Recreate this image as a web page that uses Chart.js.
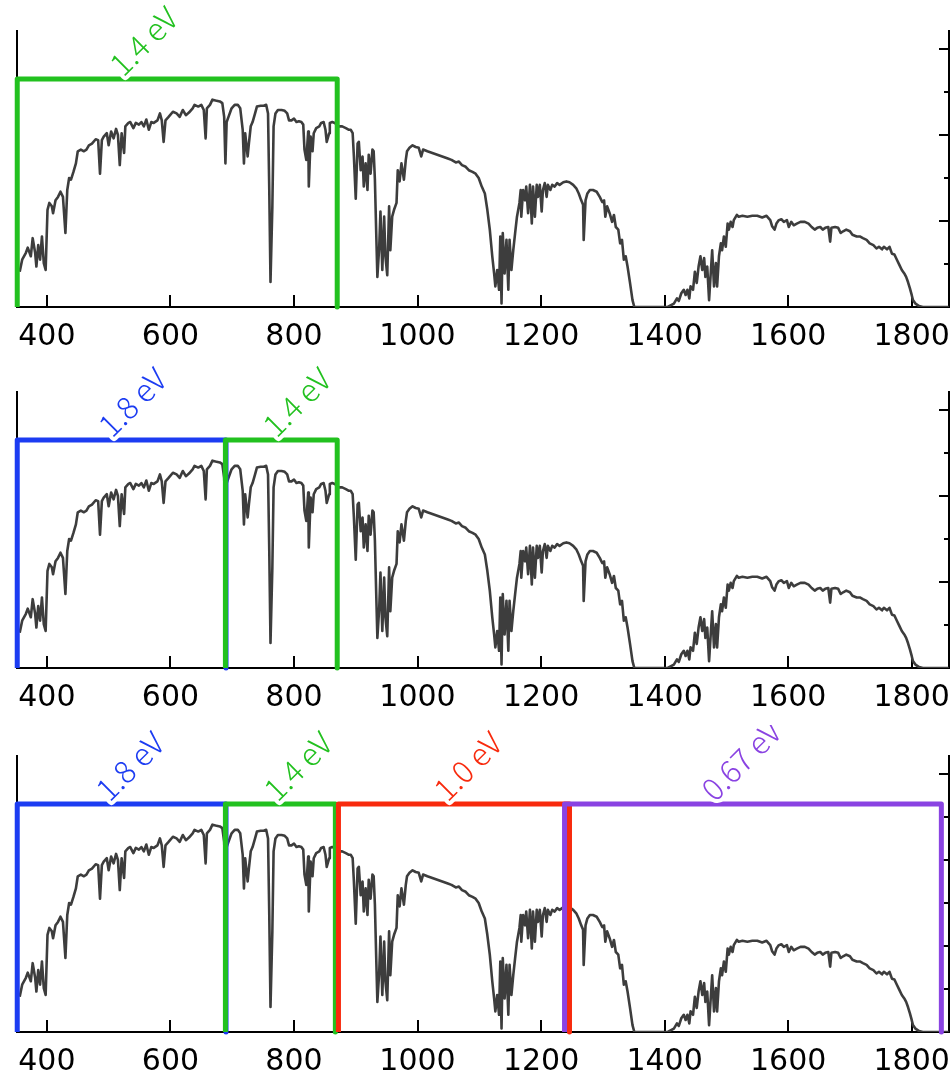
<!DOCTYPE html>
<html>
<head>
<meta charset="utf-8">
<script src="https://cdn.jsdelivr.net/npm/chart.js@4.4.1/dist/chart.umd.min.js"></script>
<style>
  html, body { margin: 0; padding: 0; background: #fff; }
  .panel { position: absolute; left: 0; width: 952px; }
  .panel canvas { display: block; }
</style>
</head>
<body>
<div class="panel" style="top:0px"><canvas id="p0" width="952" height="361"></canvas></div>
<div class="panel" style="top:361px"><canvas id="p1" width="952" height="364"></canvas></div>
<div class="panel" style="top:725px"><canvas id="p2" width="952" height="348"></canvas></div>
<script>
// AM1.5 photon flux (arbitrary units) vs wavelength in nm
const wavelength = [
  356, 360, 366, 369, 374, 377, 381, 383, 386, 389, 392, 395, 398, 401, 404, 408, 410, 414, 418, 422,
  426, 430, 433, 436, 439, 443, 447, 450, 455, 460, 464, 468, 473, 479, 483, 486, 489, 492, 497, 500,
  504, 508, 512, 515, 518, 521, 525, 527, 532, 535, 540, 544, 549, 553, 557, 561, 565, 569, 573, 579,
  583, 586, 589, 592, 597, 604, 610, 615, 620, 625, 630, 636, 639, 645, 650, 654, 657, 659, 664, 668,
  673, 680, 684, 687, 689, 691, 694, 699, 704, 709, 713, 717, 719, 721, 725, 727, 730, 733, 737, 740,
  746, 751, 755, 758, 760, 762, 765, 767, 770, 774, 780, 785, 789, 792, 796, 800, 804, 808, 812, 815,
  817, 820, 823, 824, 827, 830, 832, 836, 841, 844, 848, 851, 853, 857, 858, 862, 866, 873, 878, 884,
  889, 892, 895, 897, 900, 903, 905, 908, 911, 913, 916, 919, 921, 924, 927, 929, 931, 933, 935, 938,
  940, 943, 946, 948, 951, 954, 956, 959, 962, 966, 968, 971, 974, 978, 981, 983, 987, 992, 997, 1002,
  1006, 1009, 1016, 1024, 1032, 1040, 1048, 1055, 1062, 1067, 1072, 1078, 1083, 1089, 1094, 1099, 1104, 1109, 1113, 1117,
  1121, 1124, 1126, 1129, 1132, 1134, 1136, 1138, 1141, 1144, 1147, 1149, 1152, 1155, 1158, 1161, 1165, 1167, 1168, 1171,
  1174, 1176, 1179, 1182, 1185, 1187, 1190, 1193, 1195, 1198, 1201, 1203, 1206, 1209, 1211, 1215, 1218, 1222, 1226, 1230,
  1236, 1241, 1246, 1252, 1257, 1261, 1265, 1268, 1269, 1272, 1275, 1279, 1284, 1290, 1295, 1299, 1302, 1304, 1307, 1311,
  1315, 1318, 1321, 1325, 1328, 1331, 1334, 1337, 1340, 1344, 1348, 1351, 1380, 1405, 1415, 1420, 1423, 1427, 1431, 1434,
  1437, 1440, 1442, 1446, 1449, 1452, 1455, 1458, 1461, 1464, 1466, 1469, 1472, 1475, 1477, 1480, 1483, 1485, 1488, 1491,
  1493, 1496, 1499, 1502, 1504, 1507, 1510, 1512, 1517, 1520, 1526, 1534, 1542, 1550, 1558, 1565, 1571, 1574, 1578, 1581,
  1585, 1589, 1593, 1598, 1601, 1605, 1609, 1614, 1620, 1627, 1633, 1638, 1643, 1647, 1652, 1656, 1660, 1665, 1668, 1670,
  1676, 1681, 1685, 1689, 1694, 1700, 1704, 1711, 1716, 1721, 1727, 1732, 1738, 1743, 1747, 1752, 1755, 1760, 1764, 1768,
  1772, 1776, 1780, 1784, 1788, 1791, 1794, 1797, 1800, 1802, 1806, 1812, 1818, 1860
];
const flux = [
  0.41, 0.55, 0.63, 0.69, 0.59, 0.80, 0.63, 0.47, 0.72, 0.55, 0.82, 0.51, 0.43, 1.13, 1.21, 1.17, 1.09, 1.24, 1.28, 1.34,
  1.28, 0.86, 1.36, 1.50, 1.48, 1.57, 1.67, 1.81, 1.83, 1.81, 1.83, 1.88, 1.90, 1.95, 1.94, 1.55, 1.94, 1.98, 2.02, 1.88,
  2.04, 1.96, 2.07, 2.00, 1.65, 2.02, 1.79, 2.10, 2.14, 2.15, 2.08, 2.14, 2.12, 2.15, 2.10, 2.18, 2.06, 2.15, 2.14, 2.17,
  2.25, 2.17, 1.92, 2.17, 2.21, 2.27, 2.25, 2.21, 2.29, 2.23, 2.26, 2.31, 2.35, 2.33, 2.35, 2.29, 1.96, 2.31, 2.35, 2.41,
  2.40, 2.39, 2.37, 2.21, 1.67, 2.15, 2.21, 2.31, 2.35, 2.35, 2.31, 2.06, 1.67, 2.02, 1.75, 1.90, 2.10, 2.15, 2.25, 2.33,
  2.34, 2.34, 2.35, 2.25, 1.36, 0.29, 1.17, 2.10, 2.25, 2.29, 2.29, 2.28, 2.25, 2.17, 2.17, 2.19, 2.15, 2.16, 2.15, 2.12,
  1.83, 1.71, 2.04, 1.40, 1.98, 1.81, 2.02, 2.08, 2.10, 2.14, 2.15, 2.06, 1.92, 2.02, 2.14, 2.15, 2.14, 2.10, 2.10, 2.08,
  2.06, 2.06, 2.02, 1.75, 1.26, 1.90, 1.92, 1.59, 1.75, 1.40, 1.67, 1.36, 1.77, 1.55, 1.83, 1.81, 1.48, 0.90, 0.35, 0.70,
  1.11, 0.43, 1.05, 0.59, 0.37, 1.17, 0.66, 1.05, 1.13, 1.21, 1.59, 1.46, 1.67, 1.48, 1.71, 1.81, 1.85, 1.88, 1.86, 1.85,
  1.75, 1.83, 1.81, 1.79, 1.77, 1.75, 1.73, 1.71, 1.68, 1.69, 1.65, 1.63, 1.59, 1.57, 1.55, 1.50, 1.40, 1.32, 1.13, 0.90,
  0.59, 0.39, 0.24, 0.43, 0.20, 0.82, 0.04, 0.86, 0.39, 0.78, 0.20, 0.78, 0.43, 0.66, 0.86, 1.05, 1.21, 1.36, 1.05, 1.36,
  1.24, 1.40, 1.09, 1.42, 0.97, 1.40, 1.05, 1.42, 1.28, 1.42, 1.11, 1.36, 1.44, 1.28, 1.42, 1.36, 1.42, 1.40, 1.44, 1.42,
  1.45, 1.46, 1.45, 1.42, 1.38, 1.32, 1.24, 1.19, 0.78, 1.24, 1.32, 1.36, 1.36, 1.34, 1.28, 1.22, 1.24, 1.05, 1.17, 1.09,
  0.99, 1.07, 0.93, 0.90, 0.74, 0.78, 0.55, 0.59, 0.47, 0.28, 0.08, 0.00, 0.00, 0.00, 0.04, 0.10, 0.07, 0.16, 0.20, 0.14,
  0.20, 0.10, 0.24, 0.20, 0.41, 0.28, 0.47, 0.59, 0.43, 0.57, 0.35, 0.47, 0.08, 0.43, 0.66, 0.24, 0.51, 0.24, 0.59, 0.74,
  0.66, 0.82, 0.70, 0.97, 0.90, 0.99, 0.93, 1.01, 1.07, 1.05, 1.06, 1.05, 1.06, 1.06, 1.04, 1.06, 1.01, 0.94, 0.90, 0.97,
  1.01, 1.02, 0.99, 1.01, 0.93, 0.99, 0.95, 0.97, 0.99, 0.99, 0.97, 0.93, 0.90, 0.92, 0.93, 0.90, 0.92, 0.93, 0.76, 0.92,
  0.93, 0.92, 0.86, 0.88, 0.90, 0.88, 0.84, 0.82, 0.82, 0.80, 0.78, 0.74, 0.72, 0.68, 0.70, 0.67, 0.70, 0.67, 0.70, 0.62,
  0.61, 0.55, 0.49, 0.43, 0.39, 0.35, 0.29, 0.22, 0.14, 0.08, 0.04, 0.01, 0.00, 0.00
];

const xTicks = [400, 600, 800, 1000, 1200, 1400, 1600, 1800];
const yMajorTicks = [1, 2, 3];
const yMinorTicks = [0.5, 1.5, 2.5];

// sub-cells absorbing in each panel: band gap label, absorption window [from, to] in nm, label anchor
const panelLabels = [
  ['1.4 eV'],
  ['1.8 eV', '1.4 eV'],
  ['1.8 eV', '1.4 eV', '1.0 eV', '0.67 eV']
];
const panelEdges = [
  [[352, 870]],
  [[352, 690], [689, 870]],
  [[352, 690], [689, 867], [872, 1246], [1238, 1848]]
];
const panelLabelAt = [
  [530],
  [512, 778],
  [508, 780, 1055, 1488]
];
const boxTop = 2.65;

const gapColors = {
  '1.8 eV': '#1c3cf2',
  '1.4 eV': '#22c11f',
  '1.0 eV': '#f82a0d',
  '0.67 eV': '#8a43e2'
};

const TICK_FONT = '"DejaVu Sans", "Noto Sans", sans-serif';
const LABEL_FONT = '"Noto Sans CJK JP", "Noto Sans", sans-serif';
const PLOT_TOP = 30;
const PLOT_BOTTOM = 307;

const framePlugin = {
  id: 'frame',
  beforeDatasetsDraw(chart) {
    const { ctx, chartArea: a, scales: { x, y } } = chart;
    ctx.save();
    ctx.strokeStyle = '#000';
    ctx.lineWidth = 2;
    ctx.beginPath();
    ctx.moveTo(a.left + 1, a.top);
    ctx.lineTo(a.left + 1, a.bottom);
    ctx.moveTo(a.right - 1, a.top);
    ctx.lineTo(a.right - 1, a.bottom);
    ctx.moveTo(a.left, a.bottom);
    ctx.lineTo(a.right, a.bottom);
    xTicks.forEach((v) => {
      const px = Math.round(x.getPixelForValue(v));
      ctx.moveTo(px, a.bottom);
      ctx.lineTo(px, a.bottom - 12);
    });
    yMajorTicks.forEach((v) => {
      const py = Math.round(y.getPixelForValue(v));
      ctx.moveTo(a.right, py);
      ctx.lineTo(a.right - 11, py);
    });
    yMinorTicks.forEach((v) => {
      const py = Math.round(y.getPixelForValue(v));
      ctx.moveTo(a.right, py);
      ctx.lineTo(a.right - 6, py);
    });
    ctx.stroke();
    ctx.restore();
  }
};

const gapLabelPlugin = {
  id: 'gapLabels',
  afterDatasetsDraw(chart, args, opts) {
    const { ctx, scales: { x, y } } = chart;
    ctx.save();
    ctx.font = '300 31px ' + LABEL_FONT;
    ctx.textAlign = 'left';
    ctx.textBaseline = 'alphabetic';
    ctx.lineJoin = 'round';
    (opts.items || []).forEach((item) => {
      const px = x.getPixelForValue(item.at);
      const py = y.getPixelForValue(boxTop);
      ctx.save();
      ctx.translate(px - 4, py - 1);
      ctx.rotate(-45 * Math.PI / 180);
      ctx.strokeStyle = '#fff';
      ctx.lineWidth = 8;
      ctx.strokeText(item.text, 0, 0);
      ctx.fillStyle = item.color;
      ctx.fillText(item.text, 0, 0);
      ctx.restore();
    });
    ctx.restore();
  }
};

function buildPanel(index) {
  const labels = panelLabels[index];
  const edges = panelEdges[index];
  const anchors = panelLabelAt[index];

  const boxes = labels.map((label, i) => {
    const [from, to] = edges[i];
    return {
      label,
      data: [
        { x: from, y: 0 },
        { x: from, y: boxTop },
        { x: to, y: boxTop },
        { x: to, y: 0 }
      ],
      borderColor: gapColors[label],
      borderWidth: 5,
      borderJoinStyle: 'round',
      pointRadius: 0,
      tension: 0,
      fill: false,
      clip: false,
      order: labels.length - i
    };
  });

  const spectrum = {
    label: 'AM1.5',
    data: wavelength.map((w, i) => ({ x: w, y: flux[i] })),
    borderColor: '#3d3d3d',
    borderWidth: 2.6,
    borderJoinStyle: 'round',
    pointRadius: 0,
    tension: 0,
    fill: false,
    order: 100
  };

  const ctx = document.getElementById('p' + index);
  return new Chart(ctx, {
    type: 'line',
    data: { datasets: boxes.concat([spectrum]) },
    options: {
      responsive: false,
      animation: false,
      parsing: false,
      layout: { padding: { top: PLOT_TOP, left: 16, right: 2, bottom: 0 } },
      plugins: {
        legend: { display: false },
        tooltip: { enabled: false },
        gapLabels: {
          items: labels.map((text, i) => ({ text, at: anchors[i], color: gapColors[text] }))
        }
      },
      scales: {
        x: {
          type: 'linear',
          min: 350,
          max: 1862,
          afterFit(scale) {
            scale.height = scale.chart.height - PLOT_BOTTOM;
            scale.paddingLeft = 0;
            scale.paddingRight = 0;
          },
          afterBuildTicks(scale) { scale.ticks = xTicks.map((v) => ({ value: v })); },
          grid: { display: false, drawTicks: false },
          border: { display: false },
          ticks: {
            padding: 12,
            color: '#000',
            font: { family: TICK_FONT, size: 30 },
            maxRotation: 0,
            autoSkip: false,
            callback: (v) => String(v)
          }
        },
        y: {
          type: 'linear',
          display: false,
          min: 0,
          max: 3.22
        }
      }
    },
    plugins: [framePlugin, gapLabelPlugin]
  });
}

const ready = document.fonts && document.fonts.load
  ? Promise.all([
      document.fonts.load('30px "DejaVu Sans"'),
      document.fonts.load('300 31px "Noto Sans CJK JP"')
    ]).catch(() => null)
  : Promise.resolve();

ready.then(() => {
  [0, 1, 2].forEach(buildPanel);
});
</script>
</body>
</html>
